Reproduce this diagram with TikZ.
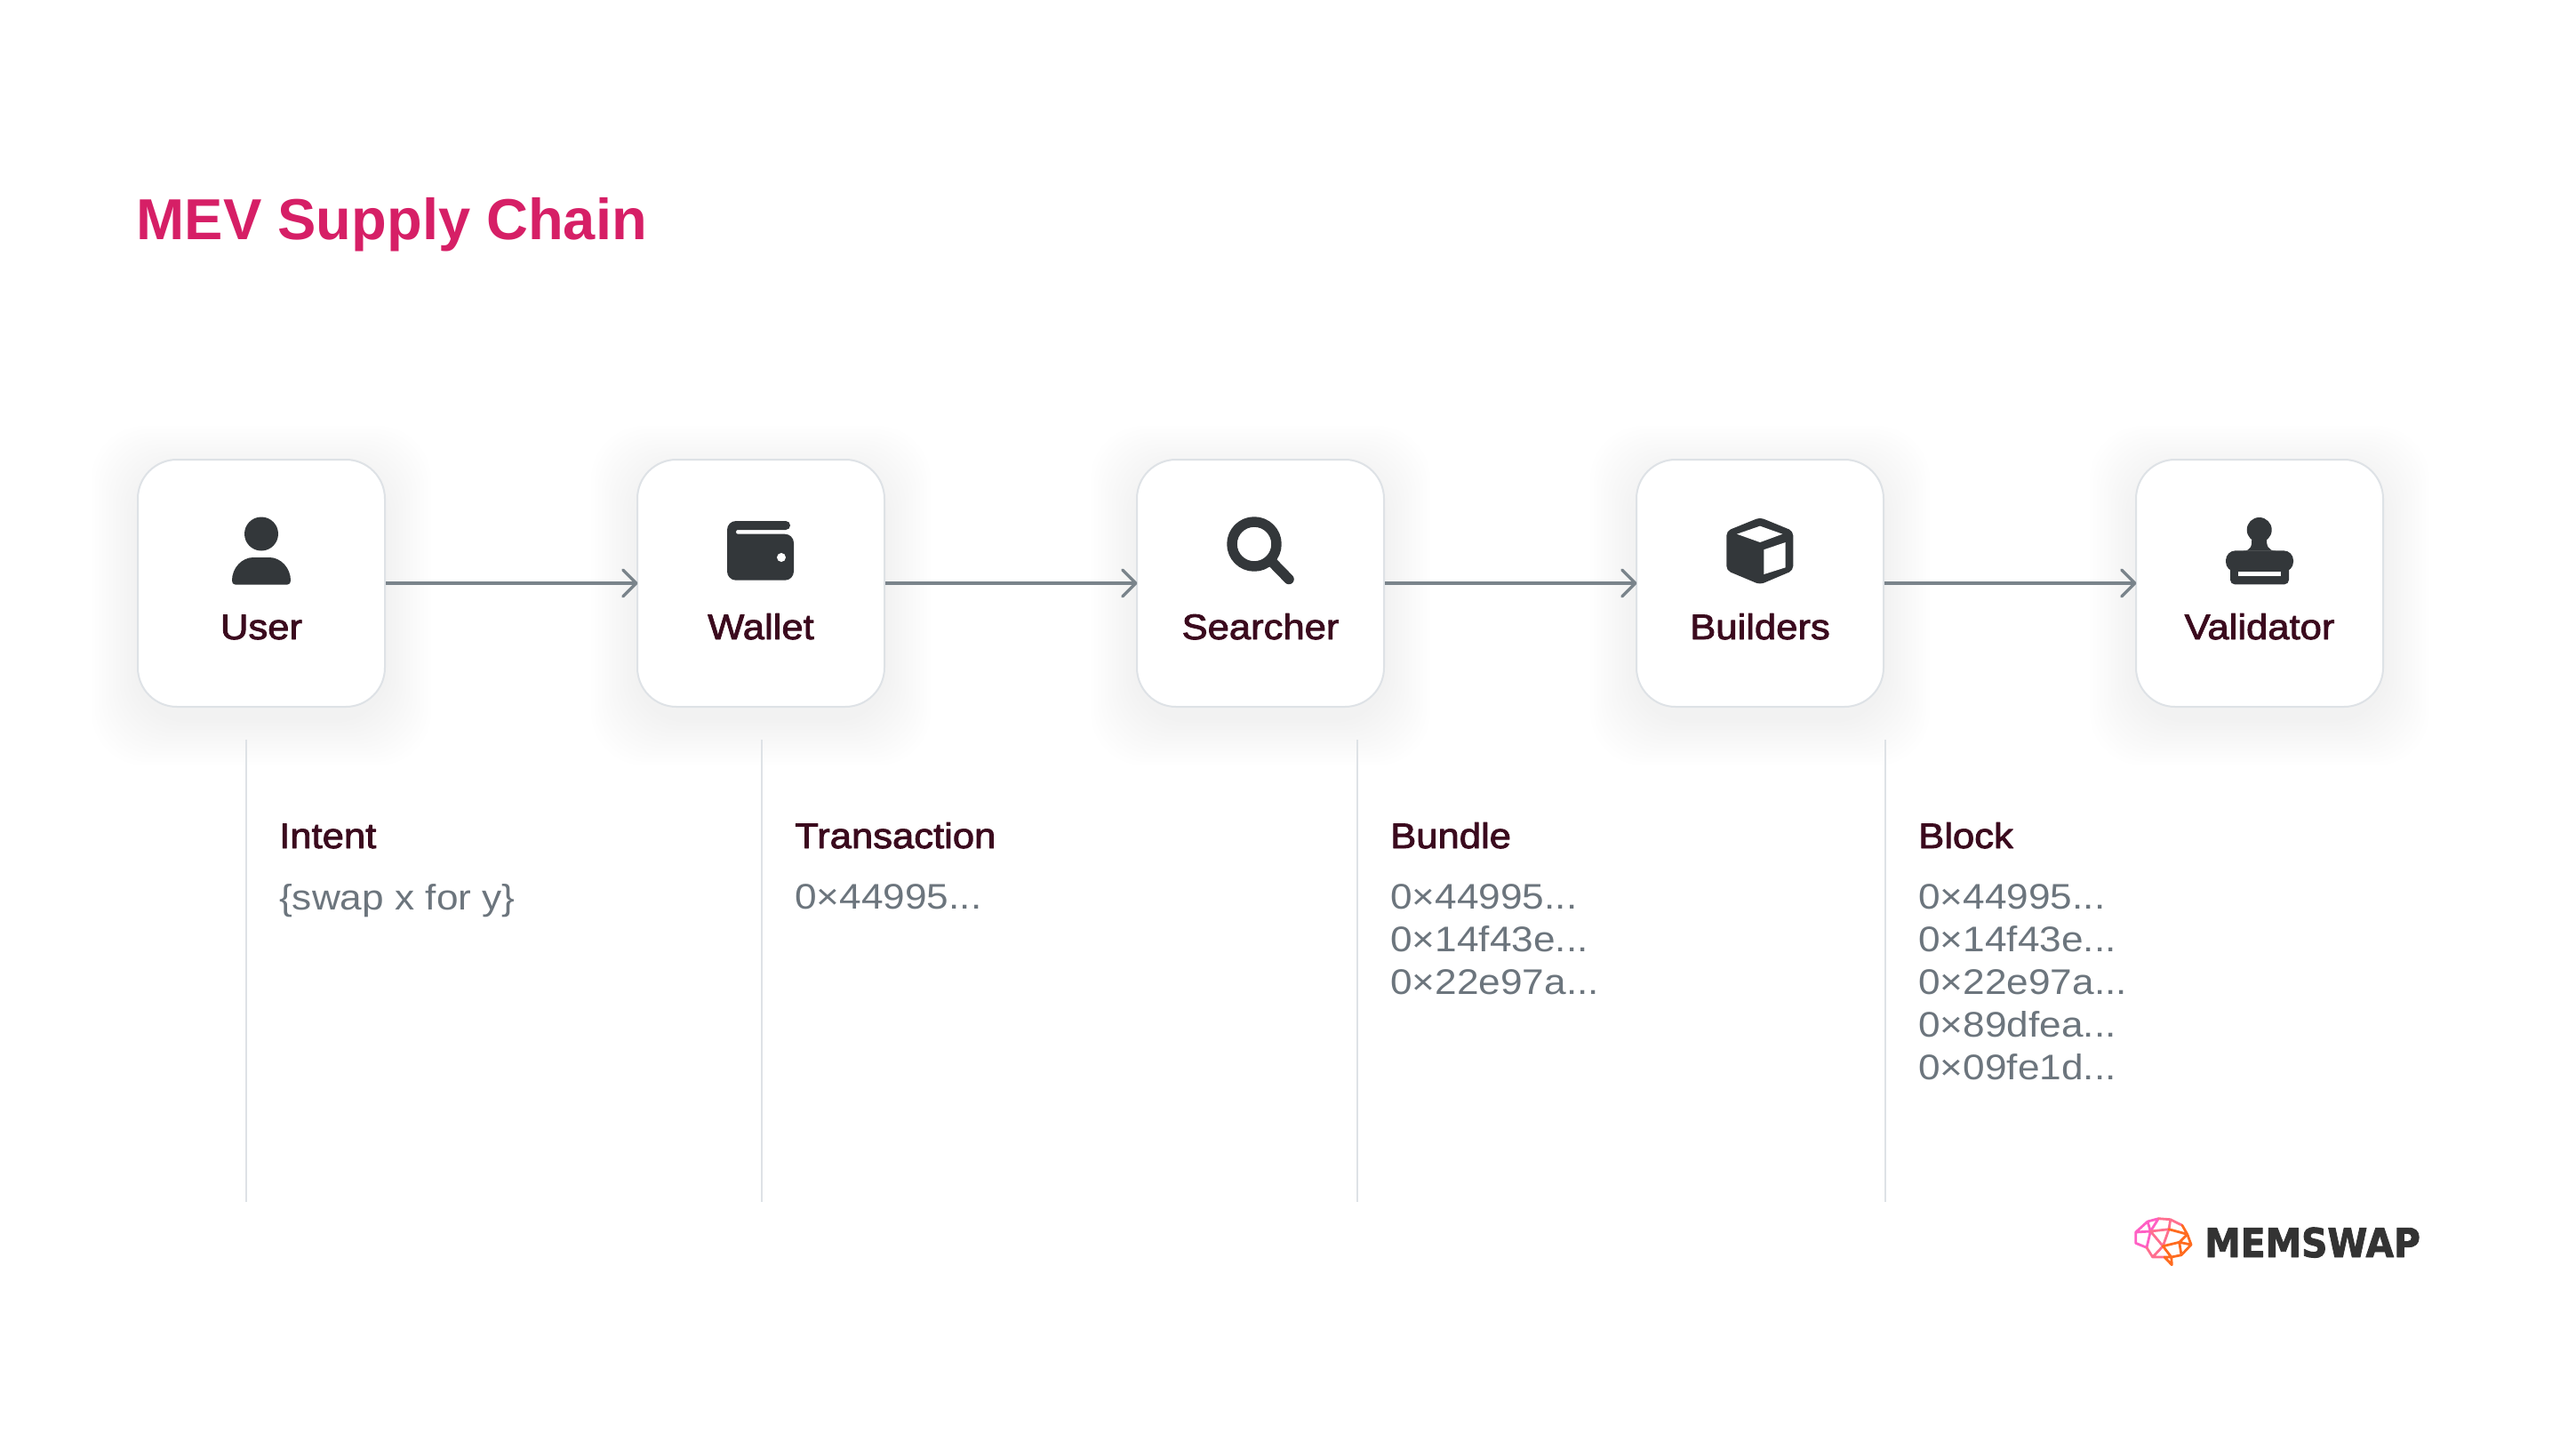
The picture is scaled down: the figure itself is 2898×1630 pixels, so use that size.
\documentclass[tikz,border=0pt]{standalone}
\usepackage{fontspec}
\setmainfont{Liberation Sans}
\newfontfamily\labelfont[FakeBold=2.2,FakeStretch=1.09]{Liberation Sans}
\newfontfamily\codefont[FakeStretch=1.105]{Liberation Sans}
\newfontfamily\logofont[FakeBold=2,FakeStretch=0.905]{DejaVu Sans Bold}
\usetikzlibrary{arrows.meta}
\definecolor{titlered}{HTML}{D61F66}
\definecolor{labeldark}{HTML}{3B0A1E}
\definecolor{codegrey}{HTML}{6C757D}
\definecolor{icondark}{HTML}{33373A}
\definecolor{rulegrey}{HTML}{DEE2E6}
\definecolor{linkgrey}{HTML}{7A848B}
\definecolor{brainpink}{HTML}{FF5FC4}
\definecolor{brainrose}{HTML}{FF6F8F}
\definecolor{brainorange}{HTML}{FF6B1F}
\tikzset{
	stagebox/.style={draw=rulegrey, line width=2pt, fill=white, rounded corners=44pt, minimum size=278pt, inner sep=0pt},
	stagelabel/.style={anchor=base, inner sep=0pt, text=labeldark, font=\labelfont\fontsize{40}{48}\selectfont},
	blockhead/.style={anchor=base west, inner sep=0pt, text=labeldark, font=\labelfont\fontsize{40}{48}\selectfont},
	blocktext/.style={anchor=north west, align=left, inner sep=0pt, text=codegrey, font=\codefont\fontsize{40}{48}\selectfont},
	link/.style={draw=linkgrey, line width=3.4pt, shorten >=-1.5pt, -{Straight Barb[length=15pt,width=30pt,line width=3.4pt,round]}},
	blockrule/.style={draw=rulegrey, line width=2pt},
	icon/.style={fill=icondark},
	boxshadow/.style={fill=black, opacity=0.003, rounded corners=60pt},
	brainline/.style={line width=2.8pt, line join=round, line cap=round}
}
\begin{document}
\begin{tikzpicture}[x=1pt, y=-1pt, line join=round]
	\useasboundingbox[fill=white] (0,0) rectangle (2898,1630);
	\node[anchor=base west, inner sep=0pt, text=titlered, font=\bfseries\fontsize{65}{70}\selectfont] (title) at (153.5,269) {MEV Supply Chain};
	% soft shadow under the boxes
	\foreach \cx in {294,856,1418,1980,2542}
		\foreach \g in {4,8,...,52}
			\fill[boxshadow] (\cx-139-\g,517+14-\g) rectangle (\cx+139+\g,795+14+\g);
	% boxes
	\node[stagebox] (user) at (294,656) {};
	\node[stagebox] (wallet) at (856,656) {};
	\node[stagebox] (searcher) at (1418,656) {};
	\node[stagebox] (builders) at (1980,656) {};
	\node[stagebox] (validator) at (2542,656) {};
	\draw[link] (user) -- (wallet);
	\draw[link] (wallet) -- (searcher);
	\draw[link] (searcher) -- (builders);
	\draw[link] (builders) -- (validator);
	\node[stagelabel] (userlabel) at (294,719) {User};
	\node[stagelabel] (walletlabel) at (856,719) {Wallet};
	\node[stagelabel] (searcherlabel) at (1418,719) {Searcher};
	\node[stagelabel] (builderslabel) at (1980,719) {Builders};
	\node[stagelabel] (validatorlabel) at (2542,719) {Validator};
	% user icon
	\fill[icon] (294,600.5) ellipse (19pt and 19pt);
	\fill[icon] (265,657.7) -- (323,657.7) .. controls (326,657.7) and (327,655.5) .. (327,653) .. controls (327,639) and (316,627) .. (303,627) -- (285,627) .. controls (272,627) and (261,639) .. (261,653) .. controls (261,655.5) and (262,657.7) .. (265,657.7) -- cycle;
	% wallet icon
	\fill[icon] (850,586) [rounded corners=5pt] -- (889,586) -- (889,596) [rounded corners=2pt] -- (828,596) -- (828,600.7) [rounded corners=10pt] -- (893,600.7) -- (893,652.7) -- (818,652.7) -- (818,586) -- cycle;
	\fill[white] (879,627) circle (5pt);
	% searcher icon
	\draw[icondark, line width=11.5pt] (1411,612) circle (25pt);
	\draw[icondark, line width=11.5pt, line cap=round] (1430,631) -- (1450,651.5);
	% builders icon
	\fill[icon, rounded corners=5pt] (1980,582) -- (2017.3,597.3) -- (2017.3,641.7) -- (1980,657.5) -- (1942.3,641.7) -- (1942.3,597.3) -- cycle;
	\fill[white] (1954,600.7) -- (1980,591.7) -- (2005.3,600.7) -- (1980,610) -- cycle;
	\fill[white] (1984.3,618.3) -- (2008.7,610) -- (2008.7,638.3) -- (1984.3,646) -- cycle;
	% validator icon
	\fill[icon] (2541.7,596) circle (14pt);
	\fill[icon] (2533,604) .. controls (2534,614) and (2532,619.5) .. (2524,619.5) -- (2560,619.5) .. controls (2552,619.5) and (2549,614) .. (2550.4,604) -- cycle;
	\fill[icon, rounded corners=11pt] (2504,619.3) rectangle (2580,643);
	\fill[icon, rounded corners=5pt] (2509,630) rectangle (2575,657.3);
	\fill[white] (2518.3,643.3) rectangle (2565.7,648);
	% columns below
	\draw[blockrule] (277,832) -- (277,1352);
	\draw[blockrule] (857,832) -- (857,1352);
	\draw[blockrule] (1527,832) -- (1527,1352);
	\draw[blockrule] (2121,832) -- (2121,1352);
	\node[blockhead] (intent) at (314,954) {Intent};
	\node[blockhead] (transaction) at (894,954) {Transaction};
	\node[blockhead] (bundle) at (1564,954) {Bundle};
	\node[blockhead] (block) at (2158,954) {Block};
	\node[blocktext] (intenttext) at (314,994) {\{swap x for y\}};
	\node[blocktext] (transactiontext) at (894,994) {0×44995...};
	\node[blocktext] (bundletext) at (1564,994) {0×44995...\\0×14f43e...\\0×22e97a...};
	\node[blocktext] (blocktext) at (2158,994) {0×44995...\\0×14f43e...\\0×22e97a...\\0×89dfea...\\0×09fe1d...};
	% logo
	\draw[brainline, brainpink] (2428.3,1370.7) -- (2416,1374) -- (2402.7,1386) -- (2402.7,1398.3) -- (2415,1403.3) (2416,1374) -- (2419.3,1385) -- (2402.7,1386) (2428.3,1370.7) -- (2419.3,1385) (2419.3,1385) -- (2415,1403.3);
	\draw[brainline, brainrose] (2428.3,1370.7) -- (2441.7,1371.7) -- (2440,1382.7) -- (2419.3,1385) -- (2433.3,1401.7) -- (2440,1382.7) (2441.7,1371.7) -- (2455,1378.3) (2415,1403.3) -- (2421.7,1414) -- (2433.3,1401.7) (2421.7,1414) -- (2435,1414);
	\draw[brainline, brainorange] (2455,1378.3) -- (2460.7,1388.3) -- (2465,1400) -- (2454,1411.7) -- (2442.7,1414) -- (2433.3,1401.7) -- (2451.7,1397.3) -- (2454,1411.7) (2451.7,1397.3) -- (2465,1400) (2451.7,1397.3) -- (2460.7,1388.3) -- (2440,1382.7) (2435,1414) -- (2443.3,1422.7) -- (2442.7,1414) -- (2435,1414);
	\node[anchor=base west, inner sep=0pt, text=black!80, font=\logofont\fontsize{45}{50}\selectfont] (memswap) at (2480,1414) {MEMSWAP};
\end{tikzpicture}
\end{document}
